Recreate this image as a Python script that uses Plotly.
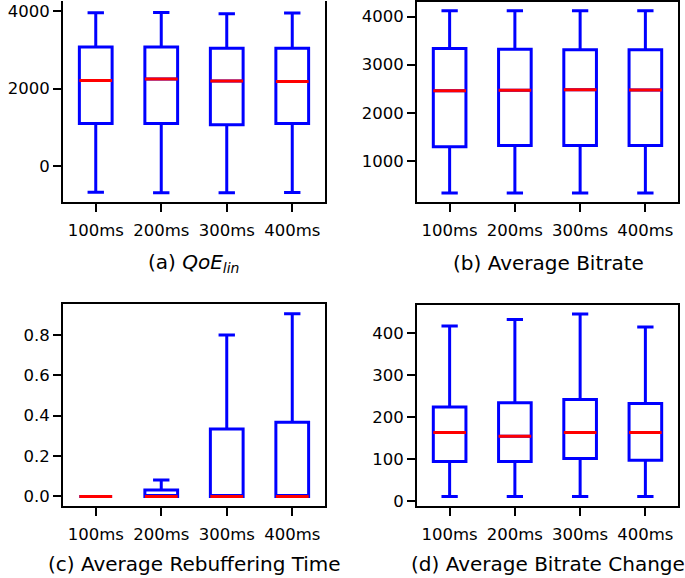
import plotly.graph_objects as go
from plotly.subplots import make_subplots

categories = ["100ms", "200ms", "300ms", "400ms"]

# (a) QoE_lin
qoe_low = [-680, -690, -690, -685]
qoe_q1 = [1100, 1095, 1067, 1095]
qoe_med = [2210, 2250, 2195, 2185]
qoe_q3 = [3077, 3077, 3045, 3045]
qoe_high = [3960, 3965, 3935, 3950]

# (b) Average Bitrate
br_low = [330, 330, 330, 330]
br_q1 = [1290, 1320, 1320, 1320]
br_med = [2455, 2465, 2480, 2470]
br_q3 = [3335, 3320, 3310, 3310]
br_high = [4120, 4120, 4120, 4120]

# (c) Average Rebuffering Time
rb_low = [0, 0, 0, 0]
rb_q1 = [0, 0, 0, 0]
rb_med = [0, 0, 0, 0]
rb_q3 = [0, 0.032, 0.334, 0.368]
rb_high = [0, 0.082, 0.800, 0.905]

# (d) Average Bitrate Change
bc_low = [10, 10, 10, 10]
bc_q1 = [94, 94, 101, 97]
bc_med = [163, 154, 163, 163]
bc_q3 = [224, 234, 242, 232]
bc_high = [417, 433, 446, 415]

captions = ["(a) <i>QoE<sub>lin</sub></i>", "(b) Average Bitrate",
            "(c) Average Rebuffering Time", "(d) Average Bitrate Change"]

y_ticks = [[0, 2000, 4000], [1000, 2000, 3000, 4000],
           [0.0, 0.2, 0.4, 0.6, 0.8], [0, 100, 200, 300, 400]]
y_ticktext = [None, None, ["0.0", "0.2", "0.4", "0.6", "0.8"], None]
y_ranges = [[-928, 4263], [146, 4302], [-0.0456, 0.954], [-11.8, 467.8]]

panels = [
    (qoe_low, qoe_q1, qoe_med, qoe_q3, qoe_high),
    (br_low, br_q1, br_med, br_q3, br_high),
    (rb_low, rb_q1, rb_med, rb_q3, rb_high),
    (bc_low, bc_q1, bc_med, bc_q3, bc_high),
]

W, H = 685, 578
fig = make_subplots(rows=2, cols=2)
pos = [(1, 1), (1, 2), (2, 1), (2, 2)]

FONT = "DejaVu Sans"
for (r, c), (lo, q1, med, q3, hi) in zip(pos, panels):
    fig.add_trace(go.Box(
        x=categories, q1=q1, median=med, q3=q3, lowerfence=lo, upperfence=hi,
        width=0.5, whiskerwidth=0.5, fillcolor="rgba(0,0,0,0)",
        line=dict(color="#0000ff", width=3), showlegend=False, hoverinfo="skip",
    ), row=r, col=c)
    fig.add_trace(go.Box(
        x=categories, q1=med, median=med, q3=med, lowerfence=med, upperfence=med,
        width=0.5, whiskerwidth=0, fillcolor="rgba(0,0,0,0)",
        line=dict(color="#ff0000", width=3), showlegend=False, hoverinfo="skip",
    ), row=r, col=c)

# domains in pixels
xdom = {1: (63, 325), 2: (417, 678)}
ydom = {(1, 1): (0, 203), (1, 2): (1, 203), (2, 1): (306, 510), (2, 2): (307, 510)}

for i, (r, c) in enumerate(pos):
    x0, x1 = xdom[c]
    t, b = ydom[(r, c)]
    fig.update_xaxes(domain=[x0 / W, x1 / W], range=[-0.5, 3.5],
                     showline=True, linecolor="black", linewidth=2,
                     mirror=(False if i == 0 else True),
                     ticks="outside", ticklen=8, tickwidth=2, tickcolor="black",
                     ticklabelstandoff=4,
                     showgrid=False, zeroline=False,
                     tickfont=dict(family=FONT, size=16.5, color="black"),
                     row=r, col=c)
    fig.update_yaxes(domain=[1 - b / H, 1 - t / H], range=y_ranges[i],
                     tickvals=y_ticks[i],
                     ticktext=y_ticktext[i] if y_ticktext[i] else [str(v) for v in y_ticks[i]],
                     showline=True, linecolor="black", linewidth=2, mirror=True,
                     ticks="outside", ticklen=8, tickwidth=2, tickcolor="black",
                     showgrid=False, zeroline=False,
                     tickfont=dict(family=FONT, size=16.5, color="black"),
                     row=r, col=c)

cap_pos = [(194, 265), (548, 265), (194, 569), (548, 569)]
for txt, (cx, cy) in zip(captions, cap_pos):
    fig.add_annotation(text=txt, x=cx / W, y=1 - cy / H, xref="paper", yref="paper",
                       showarrow=False, xanchor="center", yanchor="middle",
                       font=dict(family=FONT, size=20, color="black"))

fig.update_layout(width=W, height=H, margin=dict(l=0, r=0, t=0, b=0),
                  plot_bgcolor="white", paper_bgcolor="white", boxmode="overlay")

fig.write_html("out.html", config={"displayModeBar": False},
               post_script="document.body.style.margin='0';document.body.style.padding='0';"
                           "document.body.style.overflow='hidden';")
